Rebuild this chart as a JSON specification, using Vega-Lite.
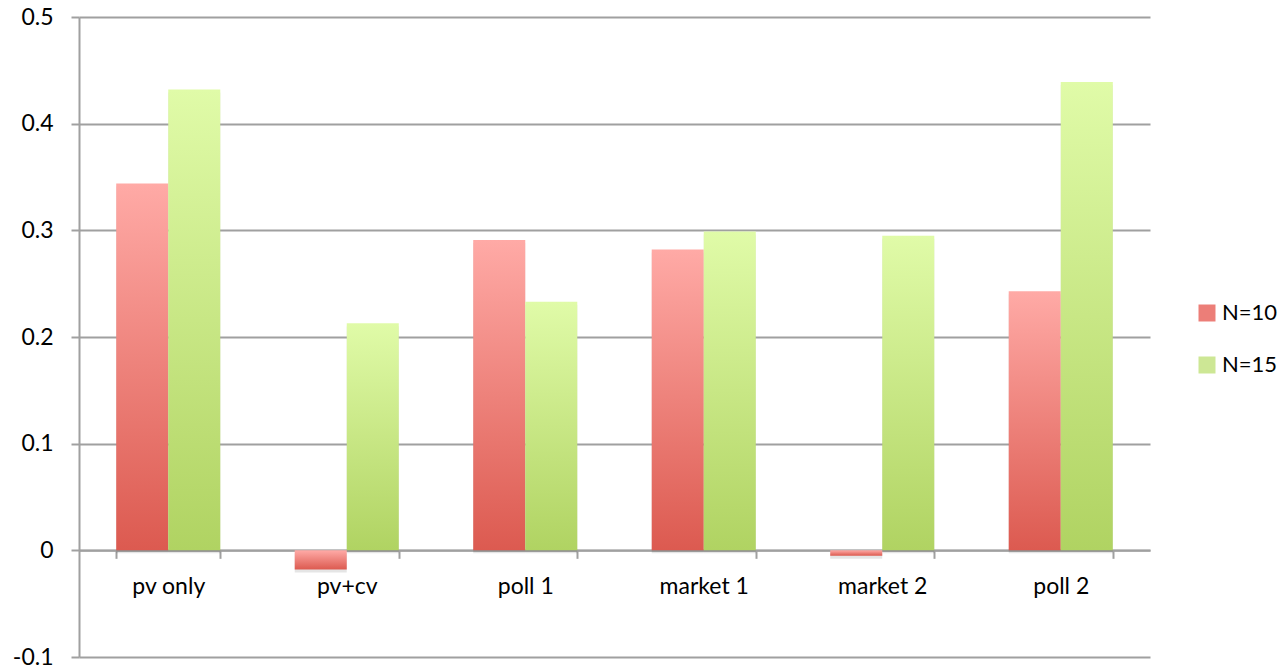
{
  "$schema": "https://vega.github.io/schema/vega-lite/v6.json",
  "width": 1071,
  "height": 640,
  "autosize": "none",
  "padding": {"left": 79, "top": 17, "right": 129, "bottom": 14},
  "background": "white",
  "config": {
    "font": "Lato",
    "view": {"stroke": null},
    "axis": {
      "domainColor": "#a0a0a0",
      "domainWidth": 2,
      "tickColor": "#a0a0a0",
      "tickWidth": 2,
      "tickSize": 8,
      "gridColor": "#a0a0a0",
      "gridWidth": 2,
      "gridOpacity": 1,
      "labelFont": "Lato",
      "labelFontSize": 23,
      "labelColor": "#000000",
      "title": null
    },
    "legend": {
      "orient": "none",
      "legendX": 1117,
      "legendY": 285,
      "title": null,
      "padding": 0,
      "symbolType": "square",
      "symbolSize": 289,
      "symbolStrokeWidth": 0,
      "symbolOpacity": 1,
      "labelFont": "Lato",
      "labelFontSize": 22,
      "labelColor": "#000000",
      "labelOffset": 4,
      "rowPadding": 30
    }
  },
  "data": {
    "values": [
      {"method": "pv only", "N": "N=10", "value": 0.344},
      {"method": "pv only", "N": "N=15", "value": 0.432},
      {"method": "pv+cv", "N": "N=10", "value": -0.018},
      {"method": "pv+cv", "N": "N=15", "value": 0.213},
      {"method": "poll 1", "N": "N=10", "value": 0.291},
      {"method": "poll 1", "N": "N=15", "value": 0.233},
      {"method": "market 1", "N": "N=10", "value": 0.282},
      {"method": "market 1", "N": "N=15", "value": 0.299},
      {"method": "market 2", "N": "N=10", "value": -0.005},
      {"method": "market 2", "N": "N=15", "value": 0.295},
      {"method": "poll 2", "N": "N=10", "value": 0.243},
      {"method": "poll 2", "N": "N=15", "value": 0.439}
    ]
  },
  "encoding": {
    "x": {
      "field": "method",
      "type": "nominal",
      "sort": ["pv only", "pv+cv", "poll 1", "market 1", "market 2", "poll 2"],
      "scale": {"paddingInner": 0.417, "paddingOuter": 0.2085},
      "axis": {
        "orient": "bottom",
        "offset": -106.67,
        "labelAngle": 0,
        "tickBand": "extent",
        "labelPadding": 17,
        "grid": false
      }
    },
    "xOffset": {
      "field": "N",
      "type": "nominal",
      "sort": ["N=10", "N=15"],
      "scale": {"paddingInner": 0, "paddingOuter": 0}
    },
    "y": {
      "field": "value",
      "type": "quantitative",
      "scale": {"domain": [-0.1, 0.5], "nice": false, "zero": false},
      "axis": {
        "values": [-0.1, 0, 0.1, 0.2, 0.3, 0.4, 0.5],
        "labelExpr": "datum.value < 0 ? '-' + format(-datum.value, '.1~f') : format(datum.value, '.1~f')",
        "labelPadding": 18,
        "grid": true
      }
    }
  },
  "layer": [
    {
      "mark": {"type": "bar", "fill": "#000000", "opacity": 0.1, "xOffset": 3, "yOffset": 3}
    },
    {
      "mark": {"type": "bar"},
      "encoding": {
        "fill": {
          "condition": {
            "test": "datum.N === 'N=10'",
            "value": {"gradient": "linear", "x1": 0, "y1": 0, "x2": 0, "y2": 1,
                      "stops": [{"offset": 0, "color": "#ffaaa6"}, {"offset": 1, "color": "#dc5a50"}]}
          },
          "value": {"gradient": "linear", "x1": 0, "y1": 0, "x2": 0, "y2": 1,
                    "stops": [{"offset": 0, "color": "#e0fba8"}, {"offset": 1, "color": "#b0d362"}]}
        }
      }
    },
    {
      "mark": {"type": "square", "opacity": 0},
      "encoding": {
        "color": {
          "field": "N",
          "type": "nominal",
          "sort": ["N=10", "N=15"],
          "scale": {"domain": ["N=10", "N=15"], "range": ["#ec7e78", "#cde795"]},
          "legend": {
            "encode": {
              "symbols": {
                "update": {
                  "opacity": {"value": 1},
                  "fill": [
                    {"test": "datum.value === 'N=10'",
                     "value": {"gradient": "linear", "x1": 0, "y1": 0, "x2": 0, "y2": 1,
                               "stops": [{"offset": 0, "color": "#ffaaa6"}, {"offset": 1, "color": "#dc5a50"}]}},
                    {"value": {"gradient": "linear", "x1": 0, "y1": 0, "x2": 0, "y2": 1,
                               "stops": [{"offset": 0, "color": "#e0fba8"}, {"offset": 1, "color": "#b0d362"}]}}
                  ]
                }
              }
            }
          }
        }
      }
    }
  ]
}
